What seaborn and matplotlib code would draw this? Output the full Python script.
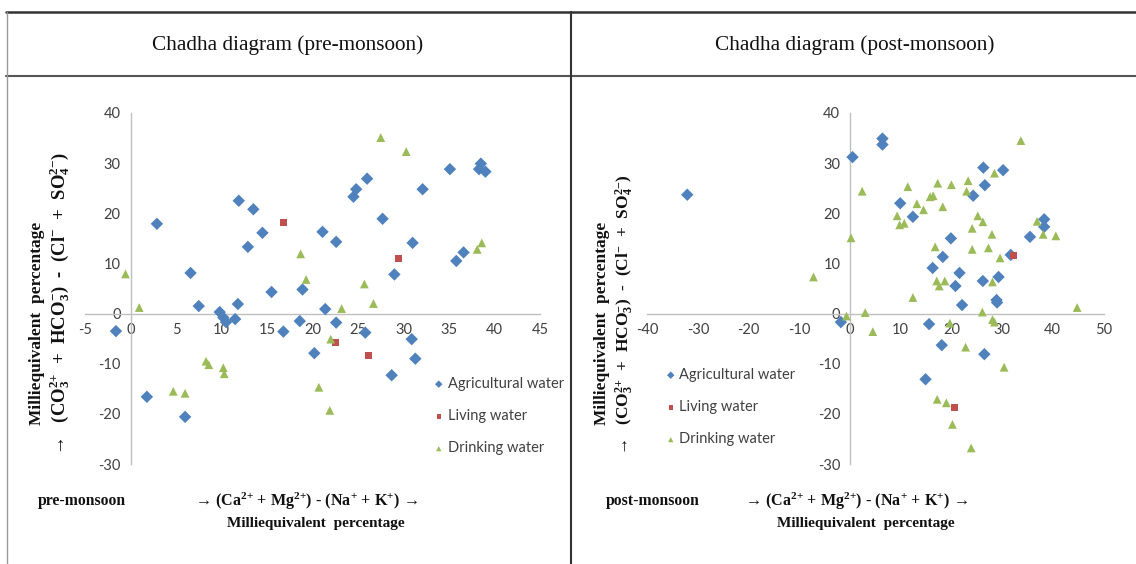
import numpy as np
import pandas as pd
import matplotlib
matplotlib.use("Agg")
import matplotlib.pyplot as plt
from matplotlib.lines import Line2D
import seaborn as sns

# ---------------- data ----------------
pre_agri_x = [2.9, 6.6, 11.9, 13.5, 12.9, 14.5, 15.5, 18.9, 35.1, 38.3, 38.5, 39.0, 26.0, 24.8, 24.5, 32.1,
              27.7, 21.1, 22.6, 31.0, 36.6, 35.8, 29.0, -1.6, 7.5, 9.8, 10.2, 10.5, 11.5, 11.8, 16.8, 18.6,
              1.8, 6.0, 21.4, 22.6, 25.8, 20.2, 30.9, 31.3, 28.7]
pre_agri_y = [17.9, 8.1, 22.5, 20.8, 13.3, 16.1, 4.3, 4.8, 28.8, 28.8, 29.9, 28.3, 26.9, 24.8, 23.3, 24.8,
              18.9, 16.3, 14.3, 14.1, 12.2, 10.5, 7.8, -3.5, 1.5, 0.3, -0.8, -1.7, -1.1, 1.9, -3.6, -1.5,
              -16.6, -20.6, 0.9, -1.8, -3.8, -7.9, -5.1, -9.0, -12.3]
pre_living_x = [16.8, 29.5, 22.5, 26.2]
pre_living_y = [18.1, 11.0, -5.8, -8.3]
pre_drink_x = [-0.55, 18.7, 19.3, 27.5, 30.3, 38.6, 38.1, 25.7, 0.96, 8.3, 8.6, 10.2, 10.3, 4.7, 6.0,
               23.2, 26.7, 22.0, 20.7, 21.9]
pre_drink_y = [7.9, 11.9, 6.8, 35.1, 32.3, 14.1, 12.8, 5.9, 1.2, -9.5, -10.2, -10.8, -12.0, -15.5, -15.9,
               1.0, 2.0, -5.1, -14.7, -19.3]

post_agri_x = [-32.1, 0.5, 6.4, 6.4, 9.9, 12.4, 24.3, 26.3, 26.6, 30.2, 19.9, 18.3, 16.3, 31.7, 35.5,
               38.3, 38.3, 21.6, 20.8, 26.2, 29.3, 28.9, 29.0, -1.8, 22.1, 15.6, 18.1, 26.5, 14.9]
post_agri_y = [23.7, 31.2, 34.9, 33.7, 22.0, 19.3, 23.5, 29.1, 25.6, 28.6, 15.0, 11.3, 9.1, 11.7, 15.3,
               18.8, 17.3, 8.1, 5.5, 6.5, 7.3, 2.7, 2.2, -1.7, 1.7, -2.1, -6.3, -8.1, -13.1]
post_living_x = [32.2, 20.7]
post_living_y = [11.5, -18.8]
post_drink_x = [-7.2, 2.4, 0.2, 9.3, 9.8, 10.7, 11.4, 13.2, 14.5, 15.8, 16.4, 17.3, 18.3, 20.0, 23.0, 23.3,
                28.5, 33.7, 25.2, 26.2, 24.1, 28.0, 16.8, 24.1, 27.3, 29.6, 36.9, 38.1, 40.6, 17.1, 17.6,
                18.7, 28.1, 12.4, -0.7, 3.0, 4.5, 19.7, 22.8, 26.1, 28.1, 28.5, 30.4, 44.8, 17.2, 19.0,
                20.2, 23.9]
post_drink_y = [7.3, 24.4, 15.1, 19.5, 17.7, 18.0, 25.3, 21.9, 20.7, 23.3, 23.5, 26.0, 21.3, 25.7, 24.4, 26.5,
                28.0, 34.5, 19.5, 18.3, 17.0, 15.8, 13.3, 12.8, 13.1, 11.1, 18.4, 15.8, 15.5, 6.5, 5.5,
                6.5, 6.3, 3.2, -0.5, 0.2, -3.6, -1.9, -6.7, 0.3, -1.2, -1.7, -10.7, 1.2, -17.1, -17.8,
                -22.1, -26.8]

groups = ["Agricultural water", "Living water", "Drinking water"]
xticks_pre = [-5, 0, 5, 10, 15, 20, 25, 30, 35, 40, 45]
xticks_post = [-40, -30, -20, -10, 0, 10, 20, 30, 40, 50]
yticks = [-30, -20, -10, 0, 10, 20, 30, 40]

def frame(ax_, ay, lx, ly, dx, dy):
    return pd.DataFrame({
        "x": list(ax_) + list(lx) + list(dx),
        "y": list(ay) + list(ly) + list(dy),
        "type": [groups[0]] * len(ax_) + [groups[1]] * len(lx) + [groups[2]] * len(dx),
    })

df_pre = frame(pre_agri_x, pre_agri_y, pre_living_x, pre_living_y, pre_drink_x, pre_drink_y)
df_post = frame(post_agri_x, post_agri_y, post_living_x, post_living_y, post_drink_x, post_drink_y)

# ---------------- style ----------------
sns.set_theme(style="white")
plt.rcParams["font.family"] = ["Lato", "DejaVu Sans"]
plt.rcParams["axes.unicode_minus"] = False
plt.rcParams["mathtext.fontset"] = "custom"
plt.rcParams["mathtext.rm"] = "Liberation Serif:bold"
plt.rcParams["mathtext.it"] = "Liberation Serif:italic:bold"
plt.rcParams["mathtext.bf"] = "Liberation Serif:bold"

colors = {groups[0]: "#4F81BD", groups[1]: "#C0504D", groups[2]: "#9BBB59"}
markers = {groups[0]: "D", groups[1]: "s", groups[2]: "^"}
sizes = {groups[0]: 40, groups[1]: 26, groups[2]: 40}
serif = ["Liberation Serif", "DejaVu Serif"]
W, H = 1136, 564

fig = plt.figure(figsize=(11.36, 5.64), dpi=100)
fig.patch.set_facecolor("white")

def fx(px):
    return px / W

def fy(py):
    return 1 - py / H

ax1 = fig.add_axes([fx(85), fy(464), fx(540) - fx(85), fy(113) - fy(464)])
ax2 = fig.add_axes([fx(647.2), fy(464), fx(1103.5) - fx(647.2), fy(113) - fy(464)])

for ax, df, xt, leg_xy in [(ax1, df_pre, xticks_pre, (430, 377)), (ax2, df_post, xticks_post, (662, 368))]:
    for g in groups:
        sub = df[df["type"] == g]
        sns.scatterplot(data=sub, x="x", y="y", color=colors[g], marker=markers[g], s=sizes[g],
                        edgecolor="none", linewidth=0, ax=ax, label=g, clip_on=False, zorder=3)
    ax.set_xlim(xt[0], xt[-1])
    ax.set_ylim(-30, 40)
    ax.set_xticks(xt)
    ax.set_yticks(yticks)
    ax.set_xlabel("")
    ax.set_ylabel("")
    ax.set_facecolor("none")
    for sp in ["top", "right"]:
        ax.spines[sp].set_visible(False)
    ax.spines["left"].set_position(("data", 0))
    ax.spines["bottom"].set_position(("data", 0))
    for sp in ["left", "bottom"]:
        ax.spines[sp].set_color("#BFBFBF")
        ax.spines[sp].set_linewidth(1.0)
    ax.tick_params(axis="both", which="both", direction="out", length=4, width=1,
                   color="#BFBFBF", labelsize=10.5, labelcolor="#404040", pad=3)
    ax.grid(False)
    leg = ax.legend(loc="upper left", bbox_to_anchor=(fx(leg_xy[0]), fy(leg_xy[1])),
                    bbox_transform=fig.transFigure, frameon=False, fontsize=10.5,
                    labelspacing=1.25, handletextpad=0.0, handlelength=1.2, markerscale=0.6,
                    borderpad=0, borderaxespad=0)
    for t in leg.get_texts():
        t.set_color("#404040")

# ---------------- table frame ----------------
def hline(y, x0, x1, lw=1.0, c="#333333"):
    fig.add_artist(Line2D([fx(x0), fx(x1)], [fy(y), fy(y)], color=c, lw=lw, transform=fig.transFigure))

def vline(x, y0, y1, lw=1.0, c="#333333"):
    fig.add_artist(Line2D([fx(x), fx(x)], [fy(y0), fy(y1)], color=c, lw=lw, transform=fig.transFigure))

hline(12, 6, 1136, lw=1.8)
hline(76, 6, 1136, lw=1.5, c="#555555")
vline(6.5, 12, 564, lw=1.0, c="#999999")
vline(570.5, 12, 564, lw=1.5)

# headers
fig.text(fx(288), fy(45), "Chadha diagram (pre-monsoon)", ha="center", va="center",
         family=serif, fontsize=15.3, color="#111111")
fig.text(fx(855), fy(45), "Chadha diagram (post-monsoon)", ha="center", va="center",
         family=serif, fontsize=15.3, color="#111111")

# x labels
xl1 = "\u2192 (Ca$^{2{+}}$ + Mg$^{2{+}}$) - (Na$^{{+}}$ + K$^{{+}}$) \u2192"
for cx, tag, tx in [(306, "pre-monsoon", 38), (856, "post-monsoon", 606)]:
    fig.text(fx(cx), fy(501), xl1, ha="center", va="center", family=serif,
             fontsize=11.6, fontweight="bold", color="#111111")
    fig.text(fx(cx + 10), fy(524), "Milliequivalent  percentage", ha="center", va="center",
             family=serif, fontsize=11, fontweight="bold", color="#111111")
    fig.text(fx(tx), fy(501), tag, ha="left", va="center", family=serif,
             fontsize=11.3, fontweight="bold", color="#111111")

# y labels
yl2 = "\u2192   (CO$_3^{2{+}}$  +  HCO$_3^{-}$)  -  (Cl$^{-}$  +  SO$_4^{2{-}}$)"
for x1, x2, fs2 in [(37, 60, 13.5), (602, 625, 12.5)]:
    fig.text(fx(x1), fy(425), "Milliequivalent  percentage", rotation=90, ha="center", va="bottom",
             family=serif, fontsize=12.5, fontweight="bold", color="#111111")
    fig.text(fx(x2), fy(455), yl2, rotation=90, ha="center", va="bottom",
             family=serif, fontsize=fs2, fontweight="bold", color="#111111")

fig.savefig("out.png", dpi=100, facecolor="white")
